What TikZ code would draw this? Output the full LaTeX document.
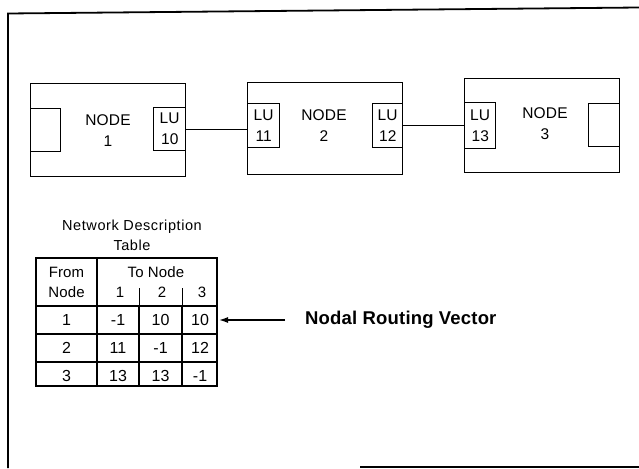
\documentclass[tikz,border=0pt]{standalone}
\usepackage{fontspec}
\setmainfont{Liberation Sans}[LetterSpace=1]
\newfontfamily\widefont{Liberation Sans}[LetterSpace=4]
\usetikzlibrary{arrows.meta}
\begin{document}
\begin{tikzpicture}[x=1pt,y=-1pt,
  box/.style={draw,line width=1.4pt,inner sep=0pt,anchor=north west},
  lubox/.style={box,align=center,font=\fontsize{15.5}{21}\selectfont},
  lbl/.style={font=\fontsize{15.5}{21}\selectfont,align=center,inner sep=0pt},
  ttl/.style={font=\widefont\fontsize{14.5}{20}\selectfont,align=center,inner sep=0pt},
  hcell/.style={font=\fontsize{15}{17}\selectfont,inner sep=0pt},
  cell/.style={font=\fontsize{16}{17}\selectfont,inner sep=0pt},
  tline/.style={line width=1.4pt},
  wire/.style={line width=1.4pt}]
\useasboundingbox (0,0) rectangle (639,468);
% frame
\draw[line width=1.8pt] (8,468) -- (8,13.5) -- (639,7.5);
\draw[line width=1.8pt] (360,467) -- (639,467);
% nodes
\node[box,minimum width=155pt,minimum height=93pt] (n1) at (30,83) {};
\node[box,minimum width=155pt,minimum height=92pt] (n2) at (247,82) {};
\node[box,minimum width=155pt,minimum height=94pt] (n3) at (464,78) {};
\node[box,minimum width=30pt,minimum height=43pt] (in1) at (30,108) {};
\node[box,minimum width=31pt,minimum height=43pt] (in3) at (588,103) {};
\node[lubox,minimum width=32pt,minimum height=43pt] (lu10) at (153,107) {LU\\10};
\node[lubox,minimum width=32pt,minimum height=44pt] (lu11) at (247,103) {LU\\11};
\node[lubox,minimum width=30pt,minimum height=44pt] (lu12) at (372,103) {LU\\12};
\node[lubox,minimum width=31pt,minimum height=46pt] (lu13) at (464,102) {LU\\13};
\node[lbl] (t1) at (108,131) {NODE\\1};
\node[lbl] (t2) at (324,125.5) {NODE\\2};
\node[lbl] (t3) at (545,123.5) {NODE\\3};
% connectors
\draw[wire] (lu10.east) -- (lu10.east -| lu11.west);
\draw[wire] (lu12.east) -- (lu12.east -| lu13.west);
% table
\node[ttl] (title) at (132,235) {Network Description\\Table};
\draw[tline] (36,258) rectangle (217,386);
\draw[tline] (97,258) -- (97,386);
\draw[tline] (36,306) -- (217,306);
\draw[tline] (36,334) -- (217,334);
\draw[tline] (36,362) -- (217,362);
\draw[line width=1pt] (139,288) -- (139,306);
\draw[line width=1pt] (182,288) -- (182,306);
\draw[tline] (139,306) -- (139,386);
\draw[tline] (182,306) -- (182,386);
\node[hcell] (hf) at (66.5,272) {From};
\node[hcell] (hn) at (66.5,292) {Node};
\node[hcell] (ht) at (156,272) {To Node};
\node[hcell] (h1) at (120,292) {1};
\node[hcell] (h2) at (162,292) {2};
\node[hcell] (h3) at (202,292) {3};
\node[cell] (r1) at (66.5,320) {1};
\node[cell] (r2) at (66.5,348) {2};
\node[cell] (r3) at (66.5,376) {3};
\node[cell] (c11) at (118,320) {-1};
\node[cell] (c12) at (160.5,320) {10};
\node[cell] (c13) at (200,320) {10};
\node[cell] (c21) at (118,348) {11};
\node[cell] (c22) at (160.5,348) {-1};
\node[cell] (c23) at (200,348) {12};
\node[cell] (c31) at (118,376) {13};
\node[cell] (c32) at (160.5,376) {13};
\node[cell] (c33) at (200,376) {-1};
\coordinate (rowend) at (219,320);
% label and arrow
\node[font=\fontsize{18.5}{20}\bfseries\selectfont,anchor=west,inner sep=0pt] (nrv) at (305,320) {Nodal Routing Vector};
\draw[line width=1.4pt,-{Latex[length=9pt,width=6pt]}] ([xshift=-20pt]nrv.west) -- (rowend);
\end{tikzpicture}
\end{document}
